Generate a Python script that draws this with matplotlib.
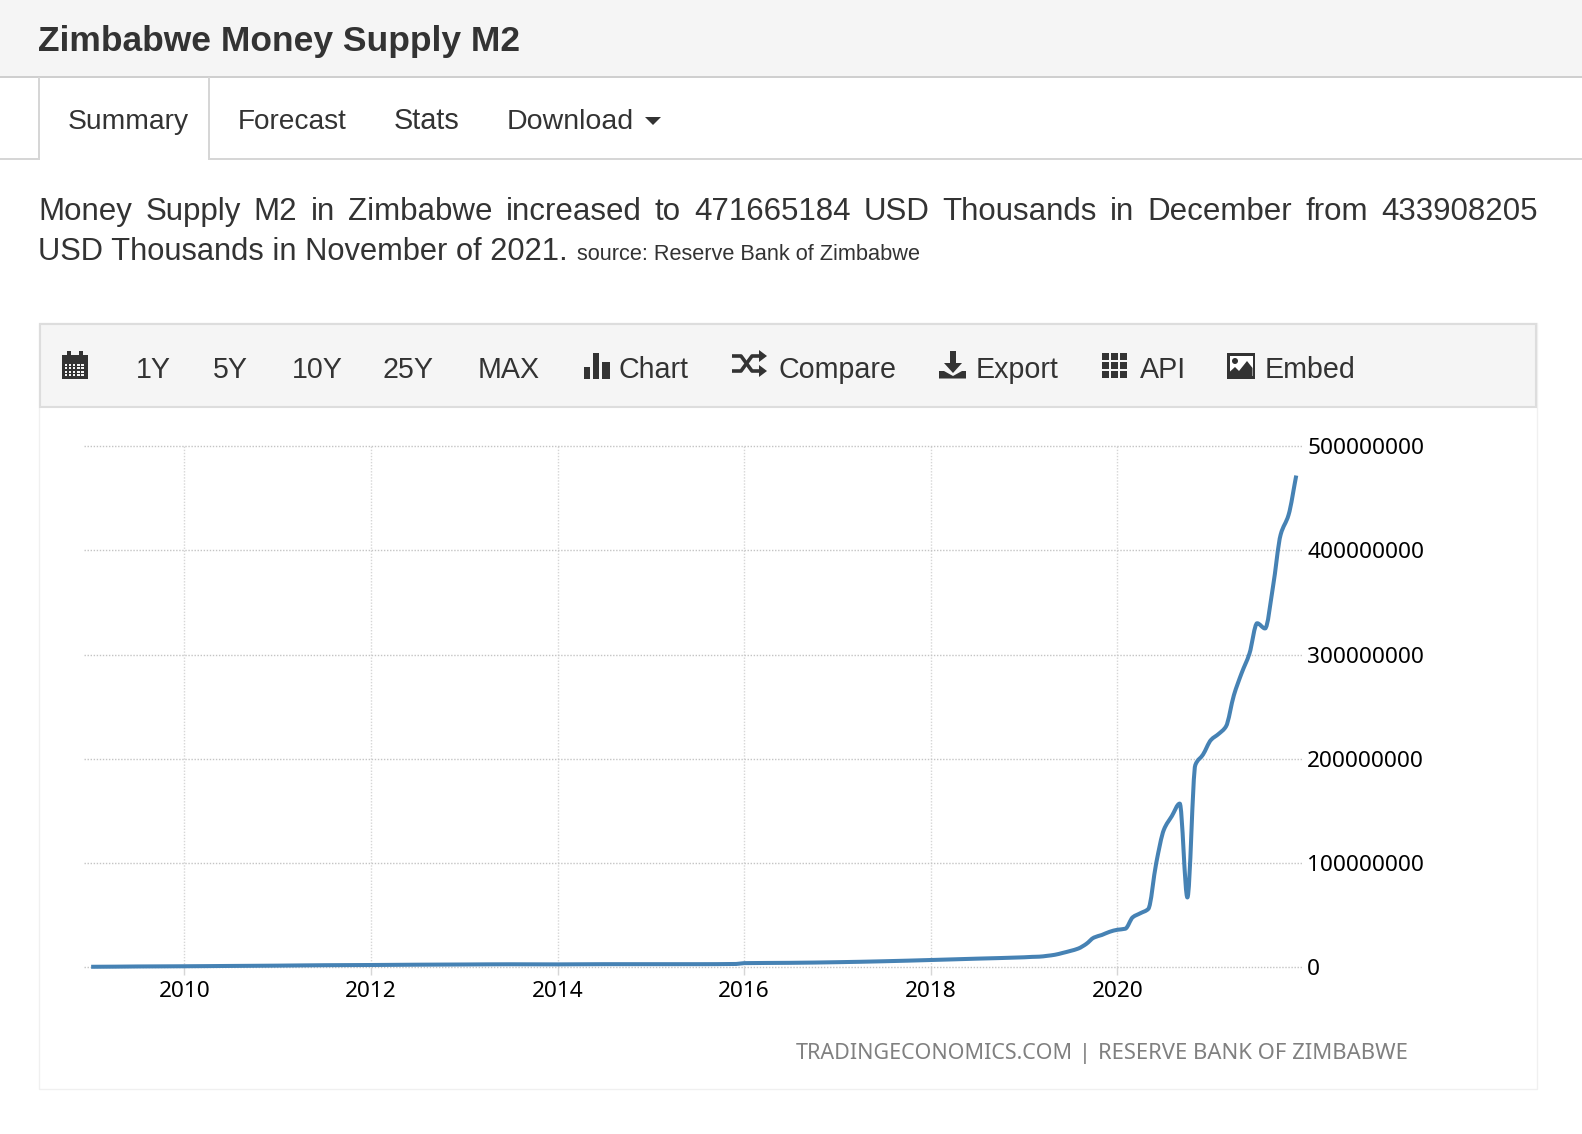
import numpy as np
import pandas as pd
import matplotlib
matplotlib.use("Agg")
import matplotlib.pyplot as plt
import matplotlib.dates as mdates
from matplotlib.path import Path
from matplotlib.patches import PathPatch, Rectangle, Polygon

# Data, millions of USD thousands
early_dates = ["2009-01-01", "2009-07-01", "2010-01-01", "2010-07-01", "2011-01-01", "2011-07-01",
               "2012-01-01", "2012-07-01", "2013-01-01", "2013-07-01", "2014-01-01", "2014-07-01",
               "2015-01-01", "2015-07-01", "2015-12-01", "2016-01-01", "2016-07-01", "2017-01-01",
               "2017-07-01", "2018-01-01", "2018-07-01"]
early_values = [0.5, 0.8, 1.0, 1.3, 1.6, 2.0, 2.2, 2.5, 2.7, 2.9, 2.8, 3.0,
                3.0, 3.0, 3.2, 4.0, 4.3, 4.9, 5.8, 7.0, 8.3]
recent_values = [9.6, 10.0, 10.2, 11.0, 12.0, 13.8, 15.7, 18.0, 22.4, 28.5, 31.0, 34.0,
                 36.0, 37.0, 48.0, 52.0, 56.0, 100.0, 132.0, 145.0, 157.0, 67.0, 194.0, 204.0,
                 218.0, 224.0, 231.0, 261.0, 282.0, 301.0, 330.0, 325.0, 365.0, 415.0, 433.908205, 471.665184]
recent_dates = pd.date_range("2019-01-01", "2021-12-01", freq="MS")

y_ticks = [0, 100, 200, 300, 400, 500]
y_labels = ["0", "100000000", "200000000", "300000000", "400000000", "500000000"]
x_years = [2010, 2012, 2014, 2016, 2018, 2020]

W, H = 1582, 1134
TEXT = "#333333"
SANS = "Liberation Sans"

fig = plt.figure(figsize=(W / 100, H / 100), dpi=100, facecolor="white")

# page overlay in pixel coordinates
page = fig.add_axes([0, 0, 1, 1])
page.set_xlim(0, W)
page.set_ylim(H, 0)
page.axis("off")


def rect(x0, y0, x1, y1, color, ec="none", lw=0):
    page.add_patch(Rectangle((x0, y0), x1 - x0, y1 - y0, fc=color, ec=ec, lw=lw))


def label(x, y, s, size, weight="normal", color=TEXT, family=SANS, ha="left"):
    return page.text(x, y, s, fontsize=size, fontweight=weight, color=color, family=family,
                     ha=ha, va="baseline")


# header and tabs
rect(0, 0, W, 76, "#f5f5f5")
rect(0, 76, W, 78, "#cfcfcf")
rect(0, 158, 39, 160, "#d6d6d6")
rect(209, 158, W, 160, "#d6d6d6")
rect(38, 77, 40, 160, "#d6d6d6")
rect(208, 77, 210, 160, "#d6d6d6")
label(38, 51, "Zimbabwe Money Supply M2", 25.5, weight="bold")
label(67.5, 129, "Summary", 20.3)
label(237.5, 129, "Forecast", 20.2)
label(394, 129, "Stats", 20.8)
label(507, 129, "Download", 20.5)
page.add_patch(Polygon([(645, 117), (661, 117), (653, 125)], fc=TEXT, ec="none"))

# justified first paragraph line
words = "Money Supply M2 in Zimbabwe increased to 471665184 USD Thousands in December from 433908205".split()
renderer = fig.canvas.get_renderer()
items = [label(0, 220, w, 22.5) for w in words]
widths = [t.get_window_extent(renderer).width for t in items]
gap = (1537.5 - 38.3 - sum(widths)) / (len(words) - 1)
pos = 38.3
for t, w_ in zip(items, widths):
    t.set_x(pos)
    pos += w_ + gap
label(38.3, 260, "USD Thousands in November of 2021.", 22.2)
label(577, 260, "source: Reserve Bank of Zimbabwe", 15.65)

# chart frame and toolbar
page.add_patch(Rectangle((38.5, 323), 1498, 766, fc="white", ec="#f0f0f0", lw=1))
page.add_patch(Rectangle((40, 324), 1495.5, 83, fc="#f5f5f5", ec="#dddddd", lw=1.5))
TOOL_Y = 377.5
for x, s in [(136, "1Y"), (213, "5Y"), (292, "10Y"), (383, "25Y"), (478, "MAX"), (619, "Chart"),
             (778, "Compare"), (976, "Export"), (1139.5, "API"), (1265, "Embed")]:
    label(x, TOOL_Y, s, 20.6)

# toolbar icons, drawn by hand
ICON = "#333333"
rect(62, 355, 88, 378.5, ICON)
rect(67, 351, 71, 357, ICON)
rect(79, 351, 83, 357, ICON)
for gx in np.arange(64.5, 85, 4.2):
    for gy in np.arange(364, 377, 3.4):
        rect(gx, gy, gx + 2.4, gy + 2, "#f5f5f5")
for x0, x1, y0 in [(584, 590, 367), (593, 599, 353), (602, 610, 362)]:
    rect(x0, y0, x1, 378.5, ICON)
page.plot([732, 741, 752, 761], [356, 356, 371, 371], color=ICON, lw=2.6, solid_capstyle="butt")
page.plot([732, 741, 752, 761], [371, 371, 356, 356], color=ICON, lw=2.6, solid_capstyle="butt")
page.add_patch(Polygon([(759, 350), (767, 356), (759, 362)], fc=ICON))
page.add_patch(Polygon([(759, 365), (767, 371), (759, 377)], fc=ICON))
rect(950, 351, 956, 364, ICON)
page.add_patch(Polygon([(944, 363), (962, 363), (953, 373)], fc=ICON))
page.add_patch(Polygon([(939, 371), (944, 371), (953, 376), (962, 371), (966, 371), (966, 378.5), (939, 378.5)], fc=ICON))
for gx in [1102, 1111, 1120]:
    for gy in [353, 362, 371]:
        rect(gx, gy, gx + 7, gy + 7, ICON)
rect(1227, 353, 1255, 378.5, ICON)
rect(1229.5, 355.5, 1252.5, 376, "white")
page.add_patch(Polygon([(1229.5, 376), (1229.5, 372), (1235, 367), (1239, 371), (1247, 361),
                        (1252.5, 368), (1252.5, 376)], fc=ICON))
page.add_patch(plt.Circle((1235, 361), 3, fc=ICON))

# chart axes placed on the gridline pixels
L, R, TOP, BOT = 84, 1303, 446, 967.3
ax = fig.add_axes([L / W, 1 - BOT / H, (R - L) / W, (BOT - TOP) / H])
ax.patch.set_alpha(0)
d2010 = mdates.date2num(pd.Timestamp("2010-01-01"))
d2020 = mdates.date2num(pd.Timestamp("2020-01-01"))
per_day = (1117.4 - 184.4) / (d2020 - d2010)
ax.set_xlim(d2010 + (L - 184.4) / per_day, d2010 + (R - 184.4) / per_day)
ax.set_ylim(0, 500)

for s in ax.spines.values():
    s.set_visible(False)
ax.set_xticks([mdates.date2num(pd.Timestamp(f"{y}-01-01")) for y in x_years])
ax.set_xticklabels([str(y) for y in x_years])
ax.set_yticks(y_ticks)
ax.set_yticklabels(y_labels)
ax.yaxis.tick_right()
ax.grid(True, axis="y", color="#c4c4c4", lw=1, ls=(0, (1, 1.2)), clip_on=False)
ax.grid(True, axis="x", color="#d6d6d6", lw=1, ls=(0, (1, 1.2)))
ax.tick_params(axis="x", length=5.5, width=1, color="#d6d6d6", pad=4.5)
ax.tick_params(axis="y", length=0, pad=3)
for t in ax.get_xticklabels() + ax.get_yticklabels():
    t.set_family("Noto Sans")
    t.set_fontsize(16.3)
    t.set_color("black")

# smooth line through the monthly values, like the site's spline
dates = pd.to_datetime(early_dates + list(recent_dates))
xs = mdates.date2num(dates)
ys = np.array(early_values + recent_values)
slopes = np.diff(ys) / np.diff(xs)
tangents = np.zeros(len(xs))
for i in range(1, len(xs) - 1):
    a, b = slopes[i - 1], slopes[i]
    # harmonic mean keeps the curve from overshooting, flat at peaks and dips
    if a * b > 0:
        tangents[i] = 2 * a * b / (a + b)
tangents[-1] = slopes[-1]
verts = [(xs[0], ys[0])]
codes = [Path.MOVETO]
for i in range(len(xs) - 1):
    h = (xs[i + 1] - xs[i]) / 3
    verts += [(xs[i] + h, ys[i] + tangents[i] * h),
              (xs[i + 1] - h, ys[i + 1] - tangents[i + 1] * h),
              (xs[i + 1], ys[i + 1])]
    codes += [Path.CURVE4] * 3
ax.add_patch(PathPatch(Path(verts, codes), fc="none", ec="#4682B4", lw=2.9, clip_on=False,
                       capstyle="butt", joinstyle="round", zorder=3))

# watermark
label(796, 1059, "TRADINGECONOMICS.COM", 15.5, color="#808080", family="Noto Sans")
label(1079, 1059, "|", 15.5, color="#808080", family="Noto Sans")
label(1098.5, 1059, "RESERVE BANK OF ZIMBABWE", 15.9, color="#808080", family="Noto Sans")

fig.savefig("out.png", dpi=100)
